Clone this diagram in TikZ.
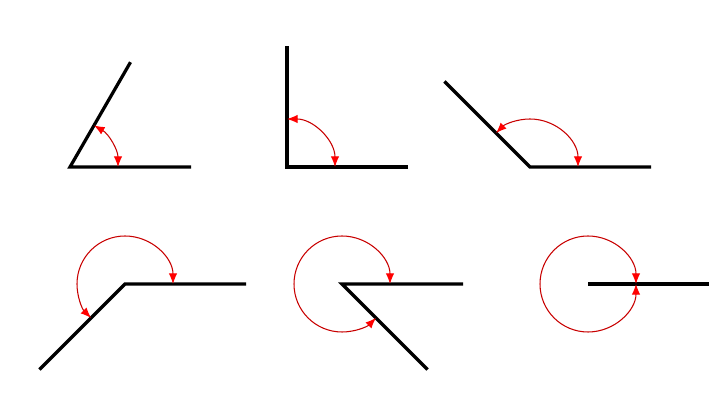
\documentclass[tikz,border=0pt]{standalone}
\usetikzlibrary{arrows.meta}
\definecolor{arcred}{RGB}{200,0,0}
\tikzset{
  angleray/.style={line width=2.3pt, line join=miter},
  anglearc/.style={draw=arcred, line width=0.75pt, {Latex[length=7.5pt,width=6pt,color=red]}-{Latex[length=7.5pt,width=6pt,color=red]}}
}
\begin{document}
\begin{tikzpicture}[x=0.025cm, y=0.025cm]
        \useasboundingbox (0,0) rectangle (720,405);
        % top row
        \coordinate (O1) at (70,238);
        \coordinate (A1) at (191,238);
        \coordinate (B1) at (130.5,342.8);
        \coordinate (O2) at (287,238);
        \coordinate (A2) at (408,238);
        \coordinate (B2) at (287,359);
        \coordinate (O3) at (530,238);
        \coordinate (A3) at (651,238);
        \coordinate (B3) at (444.4,323.6);
        % bottom row
        \coordinate (O4) at (125,121);
        \coordinate (A4) at (246,121);
        \coordinate (B4) at (39.4,35.4);
        \coordinate (O5) at (342,121);
        \coordinate (A5) at (463,121);
        \coordinate (B5) at (427.6,35.4);
        \coordinate (O6) at (588,121);
        \coordinate (A6) at (709,121);

        \draw[angleray] (A1) -- (O1) -- (B1);
        \draw[angleray] (A2) -- (O2) -- (B2);
        \draw[angleray] (A3) -- (O3) -- (B3);
        \draw[angleray] (A4) -- (O4) -- (B4);
        \draw[angleray] (A5) -- (O5) -- (B5);
        \draw[angleray] (O6) -- (A6);

        \draw[anglearc] ([shift={(0:48)}]O1) arc[start angle=0, end angle=60, radius=48];
        \draw[anglearc] ([shift={(0:48)}]O2) arc[start angle=0, end angle=90, radius=48];
        \draw[anglearc] ([shift={(0:48)}]O3) arc[start angle=0, end angle=135, radius=48];
        \draw[anglearc] ([shift={(0:48)}]O4) arc[start angle=0, end angle=225, radius=48];
        \draw[anglearc] ([shift={(0:48)}]O5) arc[start angle=0, end angle=315, radius=48];
        \draw[anglearc] ([shift={(0:48)}]O6) arc[start angle=0, end angle=360, radius=48];
    \end{tikzpicture}
\end{document}
